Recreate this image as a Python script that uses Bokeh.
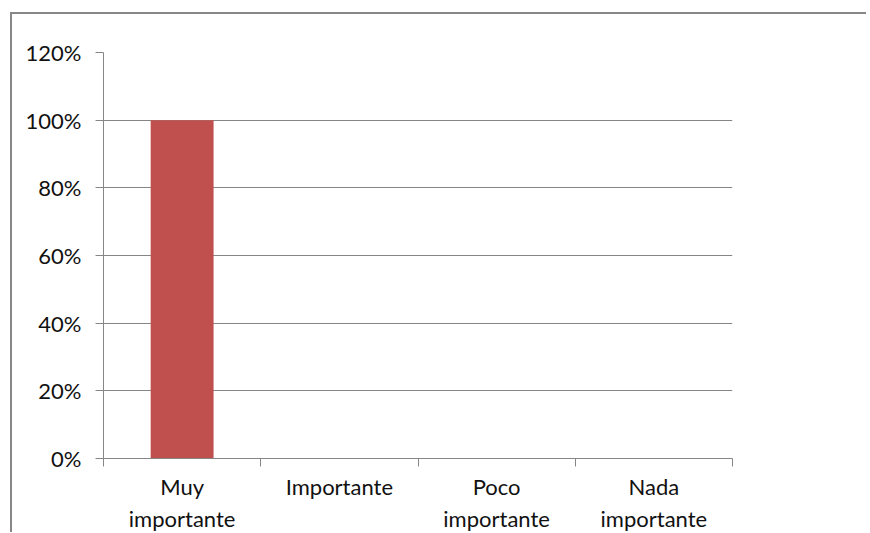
from bokeh.plotting import figure
from bokeh.models import FixedTicker, NumeralTickFormatter, Range1d, ColumnDataSource
from bokeh.embed import file_html
from bokeh.resources import INLINE

categories = ["Muy\nimportante", "Importante", "Poco\nimportante", "Nada\nimportante"]
values = [1.0, 0.0, 0.0, 0.0]
y_ticks = [0, 0.2, 0.4, 0.6, 0.8, 1.0, 1.2]

xs = [i + 0.5 for i in range(len(categories))]
src = ColumnDataSource(dict(x=xs, top=values))

FONT = "Lato"
GRID = "#868686"

p = figure(width=856, height=520, output_backend="svg", toolbar_location=None,
           x_range=Range1d(0, len(categories)), y_range=Range1d(0, 1.2),
           min_border_left=91, min_border_right=136, min_border_top=38, min_border_bottom=72)
p.styles = {"margin-left": "10px", "margin-top": "12px",
            "border-left": "2px solid #878787", "border-top": "2px solid #878787"}
p.outline_line_color = None
p.background_fill_color = "white"
p.border_fill_color = "white"

p.vbar(x="x", top="top", width=0.4, bottom=0, source=src, fill_color="#C0504D", line_color=None)

# y axis
ya = p.yaxis[0]
ya.ticker = FixedTicker(ticks=y_ticks)
ya.formatter = NumeralTickFormatter(format="0%")
ya.axis_line_color = GRID
ya.major_tick_line_color = GRID
ya.major_tick_out = 8
ya.major_tick_in = 0
ya.minor_tick_line_color = None
ya.major_label_standoff = 14
ya.major_label_text_font = FONT
ya.major_label_text_font_size = "22px"
ya.major_label_text_color = "#111111"

# x axis: labels at centers, minor ticks at boundaries
xa = p.xaxis[0]
xa.ticker = FixedTicker(ticks=xs, minor_ticks=list(range(len(categories) + 1)))
xa.major_label_overrides = {x: c for x, c in zip(xs, categories)}
xa.axis_line_color = GRID
xa.major_tick_line_color = None
xa.major_tick_out = 0
xa.major_tick_in = 0
xa.minor_tick_line_color = GRID
xa.minor_tick_out = 8
xa.minor_tick_in = 0
xa.major_label_standoff = 6
xa.major_label_text_font = FONT
xa.major_label_text_font_size = "22px"
xa.major_label_text_color = "#111111"

p.xgrid.grid_line_color = None
p.ygrid.ticker = FixedTicker(ticks=y_ticks)
p.ygrid.grid_line_color = GRID

open("out.html", "w").write(file_html(p, INLINE))
